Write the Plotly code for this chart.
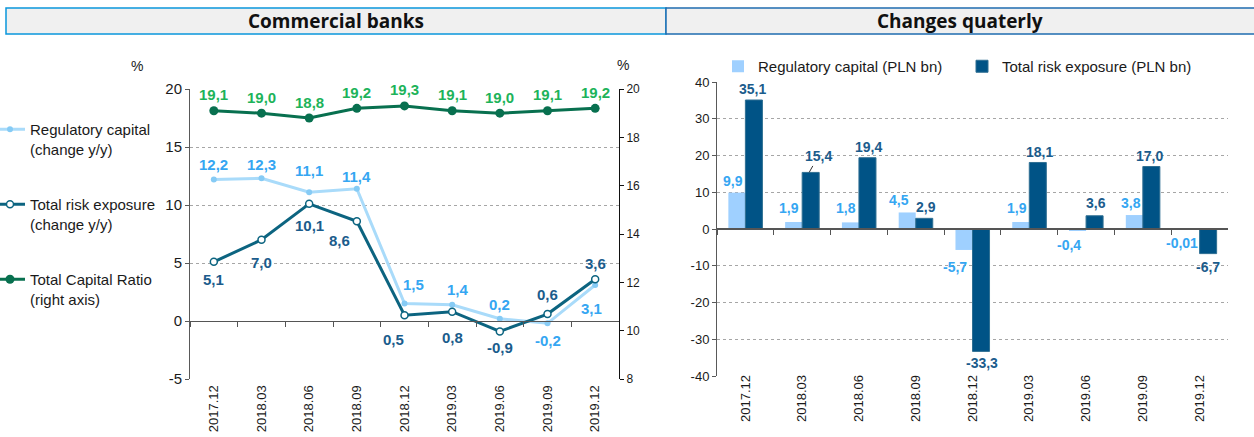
import plotly.graph_objects as go

# ---- data -------------------------------------------------------------
quarters = ["2017.12", "2018.03", "2018.06", "2018.09", "2018.12",
            "2019.03", "2019.06", "2019.09", "2019.12"]

reg_cap_yy = [12.2, 12.3, 11.1, 11.4, 1.5, 1.4, 0.2, -0.2, 3.1]
risk_exp_yy = [5.1, 7.0, 10.1, 8.6, 0.5, 0.8, -0.9, 0.6, 3.6]
total_capital_ratio = [19.1, 19.0, 18.8, 19.2, 19.3, 19.1, 19.0, 19.1, 19.2]

reg_cap_qq = [9.9, 1.9, 1.8, 4.5, -5.7, 1.9, -0.4, 3.8, -0.01]
risk_exp_qq = [35.1, 15.4, 19.4, 2.9, -33.3, 18.1, 3.6, 17.0, -6.7]

# axis tick values
left_ticks = [-5, 0, 5, 10, 15, 20]
ratio_ticks = [8, 10, 12, 14, 16, 18, 20]
right_ticks = [-40, -30, -20, -10, 0, 10, 20, 30, 40]

# ---- geometry helpers (pixel -> paper) ---------------------------------
W, H = 1254, 437


def fx(p):
    return p / W


def fy(p):
    return 1 - p / H


def fmt(v):
    s = f"{v:.1f}" if round(v, 1) == v else f"{v:.2f}"
    return s.replace(".", ",")


FONT = "Arial, Liberation Sans, sans-serif"
TXT = "#1a1a1a"

# left panel plot area
L_X = [fx(190), fx(619)]
L_Y = [fy(379), fy(89)]
L_RANGE = [-5, 20]
L_ZERO = L_Y[0] + (0 - L_RANGE[0]) / (L_RANGE[1] - L_RANGE[0]) * (L_Y[1] - L_Y[0])

# right panel plot area
R_X = [fx(717), fx(1228)]
R_Y = [fy(376), fy(82)]
R_RANGE = [-40, 40]
R_ZERO = R_Y[0] + (0 - R_RANGE[0]) / (R_RANGE[1] - R_RANGE[0]) * (R_Y[1] - R_Y[0])

C_REG_LINE = "#a9dbfa"
C_REG_MARK = "#86cbf5"
C_REG_TXT = "#35a6f2"
C_RISK = "#0c6480"
C_RISK_TXT = "#1b5c8c"
C_TCR = "#08704f"
C_TCR_TXT = "#1db35a"
C_BAR_LIGHT = "#9fd0ff"
C_BAR_DARK = "#005386"

fig = go.Figure()

# ---- left panel: y/y changes and capital ratio ------------------------
fig.add_trace(go.Scatter(
    x=quarters, y=reg_cap_yy, xaxis="x", yaxis="y",
    name="Regulatory capital<br>(change y/y)",
    mode="lines+markers",
    line=dict(color=C_REG_LINE, width=3),
    marker=dict(size=6, color=C_REG_MARK),
    legend="legend", legendgroup="a",
))
fig.add_trace(go.Scatter(
    x=quarters, y=risk_exp_yy, xaxis="x", yaxis="y",
    name="Total risk exposure<br>(change y/y)",
    mode="lines+markers",
    line=dict(color=C_RISK, width=3),
    marker=dict(size=7, color="white", line=dict(color=C_RISK, width=1.5)),
    legend="legend", legendgroup="b",
))
fig.add_trace(go.Scatter(
    x=quarters, y=total_capital_ratio, xaxis="x", yaxis="y2",
    name="Total Capital Ratio<br>(right axis)",
    mode="lines+markers",
    line=dict(color=C_TCR, width=3),
    marker=dict(size=9, color=C_TCR),
    legend="legend", legendgroup="c",
))

# ---- right panel: quarterly changes -----------------------------------
fig.add_trace(go.Bar(
    x=quarters, y=reg_cap_qq, xaxis="x3", yaxis="y3",
    name="Regulatory capital (PLN bn)",
    marker=dict(color=C_BAR_LIGHT, line=dict(width=0)),
    legend="legend2",
))
fig.add_trace(go.Bar(
    x=quarters, y=risk_exp_qq, xaxis="x3", yaxis="y3",
    name="Total risk exposure (PLN bn)",
    marker=dict(color=C_BAR_DARK, line=dict(color="#2f6f92", width=1)),
    legend="legend2",
))

# ---- value labels -----------------------------------------------------
ann = []

# label offsets in px (x, y)
reg_yy_off = [(0, 15), (0, 14), (0, 22), (0, 12), (9, 19), (6, 15), (0, 14), (0, -17), (-4, -23)]
risk_yy_off = [(0, -18), (0, -23), (0, -22), (-17, -19), (-11, -24), (0, -26), (0, -16), (0, 20), (0, 16)]
tcr_off = [(0, 16)] * 9


def label(i, v, xref, yref, off, size, color):
    return dict(x=i, y=v, xref=xref, yref=yref, text=f"<b>{fmt(v)}</b>",
                showarrow=False, xshift=off[0], yshift=off[1],
                xanchor="center", yanchor="middle",
                font=dict(family=FONT, size=size, color=color))


for i, v in enumerate(total_capital_ratio):
    ann.append(label(i, v, "x", "y2", tcr_off[i], 15, C_TCR_TXT))
for i, v in enumerate(reg_cap_yy):
    ann.append(label(i, v, "x", "y", reg_yy_off[i], 15, C_REG_TXT))
for i, v in enumerate(risk_exp_yy):
    ann.append(label(i, v, "x", "y", risk_yy_off[i], 15, C_RISK_TXT))

reg_qq_off = [(-12, 12), (-13, 14), (-13, 14), (-17, 12), (-18, -17), (-12, 14), (-17, -15), (-12, 12), (-18, -14)]
risk_qq_off = [(7, 11), (15, 14), (10, 11), (10, 11), (9, -12), (10, 10), (10, 13), (7, 11), (8, -13)]

for i, v in enumerate(reg_cap_qq):
    ann.append(label(i, v, "x3", "y3", reg_qq_off[i], 14, C_REG_TXT))
for i, v in enumerate(risk_exp_qq):
    item = label(i, v, "x3", "y3", risk_qq_off[i], 14, C_RISK_TXT)
    if i == 1:
        # short leader line from the bar top to its label
        item.update(showarrow=True, arrowhead=0, arrowwidth=1, arrowcolor="#333",
                    xshift=7, yshift=0, ax=9, ay=-16, standoff=0)
    ann.append(item)

# unit labels above the two value axes
ann.append(dict(x=fx(137), y=fy(66), xref="paper", yref="paper", text="%",
                xanchor="center", yanchor="middle", showarrow=False,
                font=dict(family=FONT, size=14, color=TXT)))
ann.append(dict(x=fx(623), y=fy(65), xref="paper", yref="paper", text="%",
                xanchor="center", yanchor="middle", showarrow=False,
                font=dict(family=FONT, size=14, color=TXT)))

# panel headers
ann.append(dict(x=fx(336), y=fy(21), xref="paper", yref="paper",
                text="<b>Commercial banks</b>", showarrow=False,
                xanchor="center", yanchor="middle",
                font=dict(family="Open Sans, sans-serif", size=19, color="#111")))
ann.append(dict(x=fx(960), y=fy(21), xref="paper", yref="paper",
                text="<b>Changes quaterly</b>", showarrow=False,
                xanchor="center", yanchor="middle",
                font=dict(family="Open Sans, sans-serif", size=19, color="#111")))

shapes = [
    dict(type="rect", xref="paper", yref="paper", x0=fx(6), x1=fx(666), y0=fy(34), y1=fy(8),
         fillcolor="#f0f0f0", line=dict(color="#0a96dc", width=1.5), layer="below"),
    dict(type="rect", xref="paper", yref="paper", x0=fx(666), x1=fx(1258), y0=fy(34), y1=fy(8),
         fillcolor="#f0f0f0", line=dict(color="#1f6cb0", width=1.5), layer="below"),
]

grid = dict(showgrid=True, gridcolor="#a6a6a6", griddash="dot", gridwidth=1)


def tick_text(vals):
    return [str(v) for v in vals]


fig.update_layout(
    width=W, height=H,
    margin=dict(l=0, r=0, t=0, b=0, autoexpand=False),
    paper_bgcolor="white", plot_bgcolor="white",
    font=dict(family=FONT, color=TXT),
    showlegend=True,
    barmode="group", bargap=0.40, bargroupgap=0,
    annotations=ann, shapes=shapes,
    xaxis=dict(domain=L_X, type="category", categoryorder="array", categoryarray=quarters,
               range=[-0.5, 8.5], anchor="free", position=L_ZERO,
               showline=True, linecolor="#555", linewidth=1,
               ticks="outside", tickson="boundaries", ticklen=5, tickcolor="#555",
               tickangle=-90, tickfont=dict(size=13, color=TXT),
               ticklabelstandoff=58, showgrid=False, zeroline=False),
    yaxis=dict(domain=L_Y, range=L_RANGE, tickvals=left_ticks, ticktext=tick_text(left_ticks),
               anchor="x",
               showline=True, linecolor="#595959", ticks="outside", ticklen=4, tickcolor="#595959",
               tickfont=dict(size=15, color=TXT), zeroline=False, **grid),
    yaxis2=dict(overlaying="y", side="right", anchor="x", range=[8, 20],
                tickvals=ratio_ticks, ticktext=tick_text(ratio_ticks),
                showline=True, linecolor="#111", ticks="outside", ticklen=4, tickcolor="#111",
                tickfont=dict(size=12, color=TXT), showgrid=False, zeroline=False),
    xaxis3=dict(domain=R_X, type="category", categoryorder="array", categoryarray=quarters,
                range=[-0.5, 8.5], anchor="free", position=R_ZERO,
                showline=True, linecolor="#555", linewidth=1.5,
                ticks="outside", tickson="boundaries", ticklen=5, tickcolor="#555",
                tickangle=-90, tickfont=dict(size=13, color=TXT),
                ticklabelstandoff=140, showgrid=False, zeroline=False),
    yaxis3=dict(domain=R_Y, range=R_RANGE, tickvals=right_ticks, ticktext=tick_text(right_ticks),
                anchor="x3",
                showline=True, linecolor="#595959", ticks="outside", ticklen=4, tickcolor="#595959",
                tickfont=dict(size=13, color=TXT), zeroline=False, **grid),
    legend=dict(x=fx(-10), y=fy(113), xanchor="left", yanchor="top",
                traceorder="grouped", tracegroupgap=33, valign="top",
                font=dict(family=FONT, size=15, color=TXT), bgcolor="rgba(0,0,0,0)",
                itemwidth=30),
    legend2=dict(orientation="h", x=fx(718), y=fy(50), xanchor="left", yanchor="top",
                 font=dict(family=FONT, size=15, color=TXT), bgcolor="rgba(0,0,0,0)",
                 entrywidthmode="pixels", entrywidth=199),
)

fig.write_html("out.html")
